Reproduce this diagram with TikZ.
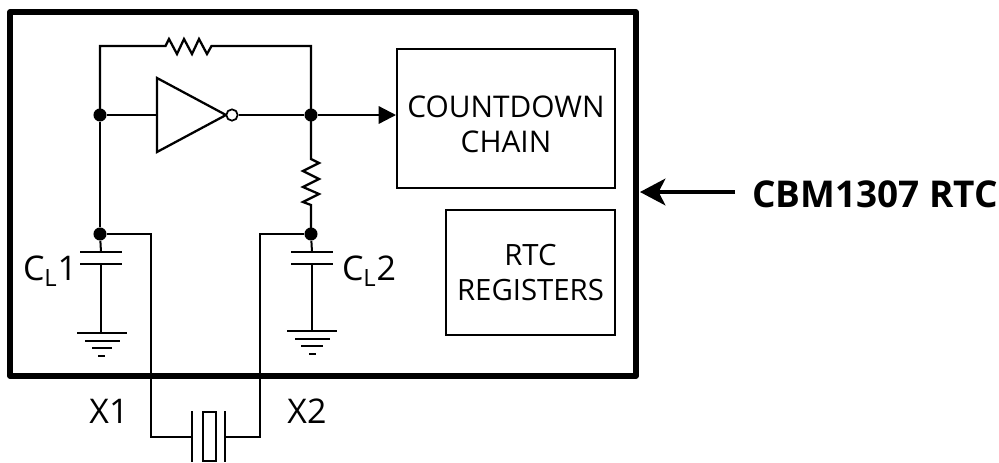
\documentclass[tikz,border=0pt]{standalone}
\usepackage{fontspec}
\setmainfont{Open Sans}
\usetikzlibrary{arrows.meta}
\usetikzlibrary{positioning}

\begin{document}
\begin{tikzpicture}[x=0.75pt, y=-0.75pt,
    wire/.style={line width=1.7pt, line join=miter},
    thinwire/.style={line width=1.5pt},
    dot/.style={circle, fill=black, inner sep=0pt, minimum size=9.8pt},
    bubble/.style={circle, draw, line width=1.3pt, fill=white, inner sep=0pt, minimum size=8.5pt},
    block/.style={draw, line width=1.5pt, minimum width=#1},
    blocktext/.style={align=center, inner sep=0pt, font=\fontsize{22.4}{26}\selectfont},
    label/.style={font=\fontsize{25.5}{30}\selectfont, inner sep=0pt}]
  \useasboundingbox (0, 0) rectangle (999, 462);

  \draw [line width=3.9pt, line join=round] (10, 12) rectangle (636, 376);

  % oscillator nodes
  \node (nin) at (100, 115) [dot] {};
  \node (nout) at (311, 115) [dot] {};
  \node (ncl1) at (100, 234) [dot] {};
  \node (ncl2) at (311, 234) [dot] {};
  \coordinate (topl) at (100, 46);
  \coordinate (topr) at (311, 46);
  \coordinate (rtop1) at (165.5, 46);
  \coordinate (rtop2) at (211.5, 46);
  \coordinate (rsw1) at (311, 159);
  \coordinate (rsw2) at (311, 205);

  \draw [wire] (nin.center) -- (topl) -- (rtop1)
    -- ++(3.5, -7) -- ++(8, 15) -- ++(7, -15) -- ++(8, 15) -- ++(7, -15) -- ++(8, 15)
    -- (rtop2) -- (topr) -- (nout.center);
  \draw [wire] (nout.center) -- (rsw1)
    -- ++(8, 4) -- ++(-16, 8) -- ++(16, 8) -- ++(-16, 8) -- ++(16, 7) -- ++(-16, 8)
    -- (rsw2) -- (ncl2.center);
  \draw [wire] (nin) -- (ncl1);

  % inverter
  \coordinate (invin) at (157, 115);
  \coordinate (invout) at (226, 115);
  \draw [wire] (157, 78) -- (invout) -- (157, 152) -- cycle;
  \node (inv) at (232, 115) [bubble] {};
  \draw [wire] (nin) -- (invin);
  \draw [wire] (inv) -- (nout);

  % blocks
  \node (count) at (506, 118.5) [block=163.5pt, minimum height=104pt] {};
  \node (counttext) at ([yshift=-4.3pt]count.center) [blocktext] {COUNTDOWN\\CHAIN};
  \node (regs) at (530.5, 272.5) [block=126.5pt, minimum height=93.5pt] {};
  \node (regstext) at (regs.center) [blocktext, font=\fontsize{22}{26}\selectfont] {RTC\\REGISTERS};
  \draw [wire, -{Triangle[length=13pt, width=13pt]}] (nout) -- (nout -| count.west);

  % load capacitors
  \coordinate (c1a) at (101, 252);
  \coordinate (c1b) at (101, 264);
  \coordinate (g1) at (101, 333);
  \coordinate (c2a) at (312, 252);
  \coordinate (c2b) at (312, 264);
  \coordinate (g2) at (312, 331);
  \draw [thinwire] (ncl1) -- (c1a);
  \draw [thinwire] (80, 252) -- (122, 252);
  \draw [thinwire] (80, 264) -- (122, 264);
  \draw [thinwire] (c1b) -- (g1);
  \draw [thinwire] (77, 333) -- (127, 333);
  \draw [thinwire] (85, 341) -- (120, 341);
  \draw [thinwire] (92, 348) -- (112, 348);
  \draw [thinwire] (98, 356) -- (105, 356);
  \draw [thinwire] (ncl2) -- (c2a);
  \draw [thinwire] (291, 252) -- (333, 252);
  \draw [thinwire] (291, 264) -- (333, 264);
  \draw [thinwire] (c2b) -- (g2);
  \draw [thinwire] (287, 331) -- (337, 331);
  \draw [thinwire] (295, 339) -- (330, 339);
  \draw [thinwire] (301, 346) -- (323, 346);
  \draw [thinwire] (309, 354) -- (316, 354);

  % crystal
  \coordinate (xl) at (192, 437);
  \coordinate (xr) at (225, 437);
  \draw [thinwire] (ncl1) -| (151, 437) -- (xl);
  \draw [thinwire] (ncl2) -| (260, 437) -- (xr);
  \draw [thinwire] (192, 411) -- (192, 462);
  \draw [thinwire] (225, 411) -- (225, 462);
  \draw [thinwire] (203, 412) rectangle (216, 461);

  \node (lcl1) at (50, 271) [label] {C\textsubscript{L}1};
  \node (lcl2) at (369, 271) [label] {C\textsubscript{L}2};
  \node (lx1) at (109, 411) [label] {X1};
  \node (lx2) at (307, 411) [label] {X2};

  \node (title) at (875, 194) [label, font=\bfseries\fontsize{27.7}{30}\selectfont] {CBM1307 RTC};
  \coordinate (tail) at (735, 192);
  \coordinate (chip) at (640, 192);
  \draw [line width=2.5pt, -{Stealth[length=19pt, width=20pt, inset=5pt]}] (tail) -- (chip);
\end{tikzpicture}
\end{document}
